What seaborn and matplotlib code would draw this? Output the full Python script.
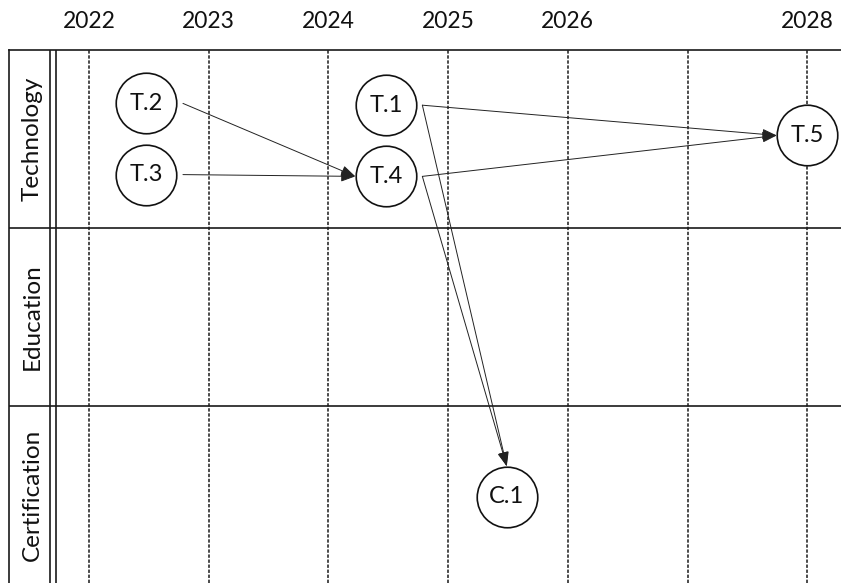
import matplotlib
matplotlib.use("Agg")
import matplotlib.pyplot as plt
import seaborn as sns
import pandas as pd

# ---- data ----
lanes = ["Technology", "Education", "Certification"]
years = [2022, 2023, 2024, 2025, 2026, 2027, 2028]
year_labels = ["2022", "2023", "2024", "2025", "2026", "", "2028"]

node_ids = ["T.1", "T.2", "T.3", "T.4", "T.5", "C.1"]
node_lanes = ["Technology", "Technology", "Technology", "Technology", "Technology", "Certification"]
node_years = [2024.48, 2022.48, 2022.48, 2024.48, 2028.0, 2025.49]
node_rows = [0.31, 0.30, 0.70, 0.71, 0.48, 0.51]   # position inside lane (0 top, 1 bottom)

edge_src = ["T.2", "T.3", "T.1", "T.4", "T.1", "T.4"]
edge_dst = ["T.4", "T.4", "T.5", "T.5", "C.1", "C.1"]

# ---- figure ----
sns.set_theme(style="white")
plt.rcParams["font.family"] = ["Lato", "DejaVu Sans"]

W, H = 841, 583
fig = plt.figure(figsize=(W / 100, H / 100), dpi=100)
left_px, top_px = 9, 50
ax = fig.add_axes([left_px / W, 0, 1 - left_px / W, 1 - top_px / H])

px_per_year = 119.7
lane_px = 178.0
x0 = years[0] - (89 - left_px) / px_per_year
x1 = years[0] + (W - 89) / px_per_year
ax.set_xlim(x0, x1)
ax.set_ylim((H - top_px) / lane_px, 0)

df = pd.DataFrame({
    "id": node_ids,
    "year": node_years,
    "y": [lanes.index(l) + r for l, r in zip(node_lanes, node_rows)],
    "lane": node_lanes,
})

# spines
for s in ["right", "bottom"]:
    ax.spines[s].set_visible(False)
for s in ["top", "left"]:
    ax.spines[s].set_color("#1a1a1a")
    ax.spines[s].set_linewidth(1.2)

# year grid
for yv in years:
    ax.axvline(yv, color="#1a1a1a", lw=1.1, ls=(0, (2.2, 1.1)), zorder=1)
# lane separators
for i in range(1, len(lanes)):
    ax.axhline(i, color="#1a1a1a", lw=1.2, zorder=1)
# double line of lane header column
for px in (50, 56):
    ax.axvline(years[0] - (89 - px) / px_per_year, color="#1a1a1a", lw=1.2, zorder=1)

# lane labels
hdr_x = years[0] - (89 - 32) / px_per_year
for i, lane in enumerate(lanes):
    ax.text(hdr_x, i + 0.5, lane, rotation=90, ha="center", va="center",
            fontsize=17.5, color="#111")

# year labels on top
ax.xaxis.tick_top()
ax.set_xticks(years)
ax.set_xticklabels(year_labels, fontsize=16.5, color="#111")
ax.tick_params(axis="x", length=0, pad=13)
ax.set_yticks([])

# nodes
sns.scatterplot(data=df, x="year", y="y", s=1900, color="white", edgecolor="#111",
                linewidth=1.2, legend=False, ax=ax, zorder=3)
ax.set_xlabel("")
ax.set_ylabel("")
for _, r in df.iterrows():
    ax.text(r["year"], r["y"], r["id"], ha="center", va="center", fontsize=17,
            color="#111", zorder=4)

# edges (east port of source -> west / north port of target)
fig.canvas.draw()
tdata = ax.transData
inv = tdata.inverted()
pos = {r["id"]: (r["year"], r["y"], r["lane"]) for _, r in df.iterrows()}
R = 30.5
for s, d in zip(edge_src, edge_dst):
    sx, sy, sl = pos[s]
    dx, dy, dl = pos[d]
    spx = tdata.transform((sx, sy))
    dpx = tdata.transform((dx, dy))
    start = inv.transform((spx[0] + R + 6, spx[1]))
    if sl == dl:
        end = inv.transform((dpx[0] - R, dpx[1]))
    else:
        end = inv.transform((dpx[0], dpx[1] + R))
    ax.annotate("", xy=end, xytext=start,
                arrowprops=dict(arrowstyle="-|>,head_length=0.8,head_width=0.3",
                                color="#222", lw=0.7, shrinkA=0, shrinkB=0,
                                mutation_scale=11),
                zorder=5)

fig.savefig("out.png", dpi=100)
